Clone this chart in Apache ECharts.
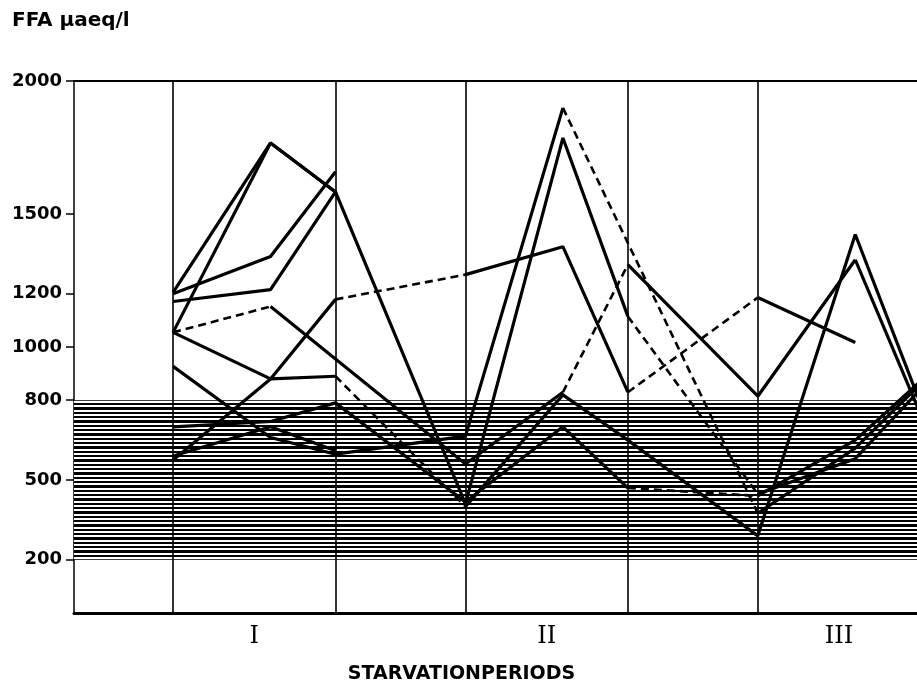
<!DOCTYPE html>
<html>
<head>
<meta charset="utf-8">
<script src="https://cdn.jsdelivr.net/npm/echarts@6/dist/echarts.min.js"></script>
<style>
  html, body { margin: 0; padding: 0; background: #fff; }
  #chart { width: 917px; height: 689px; }
</style>
</head>
<body>
<div id="chart"></div>
<script>
// x positions (days) of the samples: start, middle, end of each starvation period
var samplePos = [0, 3, 5, 9, 12, 14, 18, 21, 23];
var periodEdges = [0, 5, 9, 14, 18];
var periodCenters = [2.5, 11.5, 20.5];
var periodLabels = ['I', 'II', 'III'];
var yTicks = [200, 500, 800, 1000, 1200, 1500, 2000];
var normalRange = [200, 800];

// FFA values per subject (null = not measured)
var subjA = [1205, 1767, 1583, 410, 1786, 1115, 447, 580, 840];
var subjB = [1055, 1767, 1583, null, null, null, null, null, null];
var subjC = [1200, 1340, 1659, null, null, null, null, null, null];
var subjD = [1171, 1216, 1583, null, null, null, null, null, null];
var subjE = [1055, 1152, null, 560, 830, 1310, 815, 1328, 750];
var subjF = [1055, 880, 890, 400, 820, 650, 290, 1423, 790];
var subjG = [927, 660, 597, 665, 1899, null, 375, 620, 860];
var subjH = [575, 880, 1179, 1272, 1377, 830, 1186, 1017, null];
var subjI = [700, 720, 790, 417, 700, 470, 440, 650, 870];
var subjJ = [590, 700, 610, null, null, null, null, null, null];

// line style of each drawn segment, s = solid, d = dashed
var styleA = 'sssssdss';
var styleB = 'ss';
var styleC = 'ss';
var styleD = 'ss';
var styleE = 'dssdss';
var styleF = 'ssdsssss';
var styleG = 'ssssdss';
var styleH = 'ssdssds';
var styleI = 'sssssdss';
var styleJ = 'ss';

var subjects = [
  [subjA, styleA], [subjB, styleB], [subjC, styleC], [subjD, styleD], [subjE, styleE],
  [subjF, styleF], [subjG, styleG], [subjH, styleH], [subjI, styleI], [subjJ, styleJ]
];

// horizontal hatching for the normal range (3 lines every 13px)
var hatch = document.createElement('canvas');
hatch.width = 8;
hatch.height = 13;
var hctx = hatch.getContext('2d');
hctx.fillStyle = '#fff';
hctx.fillRect(0, 0, 8, 13);
hctx.fillStyle = '#000';
hctx.fillRect(0, 0, 8, 2);
hctx.fillRect(0, 4, 8, 3);
hctx.fillRect(0, 9, 8, 2);

var series = [];

// helper series: period borders + shaded normal range
series.push({
  type: 'line',
  data: [],
  z: 1,
  markLine: {
    silent: true,
    symbol: ['none', 'none'],
    label: { show: false },
    lineStyle: { color: '#000', width: 1.6, type: 'solid' },
    data: periodEdges.map(function (x) { return { xAxis: x }; })
  },
  markArea: {
    silent: true,
    itemStyle: { color: { image: hatch, repeat: 'repeat' } },
    data: [[{ yAxis: normalRange[0] }, { yAxis: normalRange[1] }]]
  }
});

subjects.forEach(function (s) {
  var vals = s[0], styles = s[1];
  var pts = [];
  vals.forEach(function (v, i) {
    if (v !== null) pts.push([samplePos[i], v]);
  });
  // group consecutive segments with the same style
  var run = [pts[0]], cur = styles[0];
  for (var k = 1; k < pts.length; k++) {
    var st = styles[k - 1];
    if (st !== cur) {
      series.push(makeLine(run, cur));
      run = [pts[k - 1]];
      cur = st;
    }
    run.push(pts[k]);
  }
  series.push(makeLine(run, cur));
});

function makeLine(data, st) {
  return {
    type: 'line',
    data: data,
    symbol: 'none',
    z: 3,
    clip: true,
    lineStyle: {
      color: '#000',
      width: st === 'd' ? 2.6 : 3.2,
      type: st === 'd' ? [8, 5] : 'solid'
    }
  };
}

var chart = echarts.init(document.getElementById('chart'));
chart.setOption({
  animation: false,
  backgroundColor: '#fff',
  title: {
    text: 'FFA µaeq/l',
    left: 7,
    top: 6,
    textStyle: { fontSize: 20, fontWeight: 'bold', fontFamily: 'DejaVu Sans', color: '#000' }
  },
  grid: { left: 74, right: 0, top: 81, bottom: 72 },
  xAxis: [
    {
      type: 'value',
      min: -3.05,
      max: 22.9,
      name: 'STARVATIONPERIODS',
      nameLocation: 'middle',
      nameGap: 52,
      nameTextStyle: {
        fontSize: 19, fontWeight: 'bold', fontFamily: 'DejaVu Sans', color: '#000',
        padding: [0, 68, 0, 0]
      },
      splitLine: { show: false },
      axisLine: { show: true, lineStyle: { color: '#000', width: 3 } },
      axisTick: { show: false },
      axisLabel: {
        customValues: periodCenters,
        margin: 12,
        fontSize: 24,
        fontFamily: 'DejaVu Serif',
        color: '#000',
        formatter: function (v) { return periodLabels[periodCenters.indexOf(v)]; }
      }
    },
    {
      type: 'value',
      position: 'top',
      min: -3.05,
      max: 22.9,
      splitLine: { show: false },
      axisLine: { show: true, onZero: false, lineStyle: { color: '#000', width: 2 } },
      axisTick: { show: false },
      axisLabel: { show: false }
    }
  ],
  yAxis: {
    type: 'value',
    min: 0,
    max: 2000,
    splitLine: { show: false },
    axisLine: { show: true, onZero: false, lineStyle: { color: '#000', width: 1.5 } },
    axisTick: { show: true, customValues: yTicks, length: 8, lineStyle: { color: '#000', width: 1.5 } },
    axisLabel: {
      customValues: yTicks,
      margin: 12,
      fontSize: 18,
      fontWeight: 'bold',
      fontFamily: 'DejaVu Sans',
      color: '#000',
      formatter: function (v) { return String(v); }
    }
  },
  series: series
});
</script>
</body>
</html>
